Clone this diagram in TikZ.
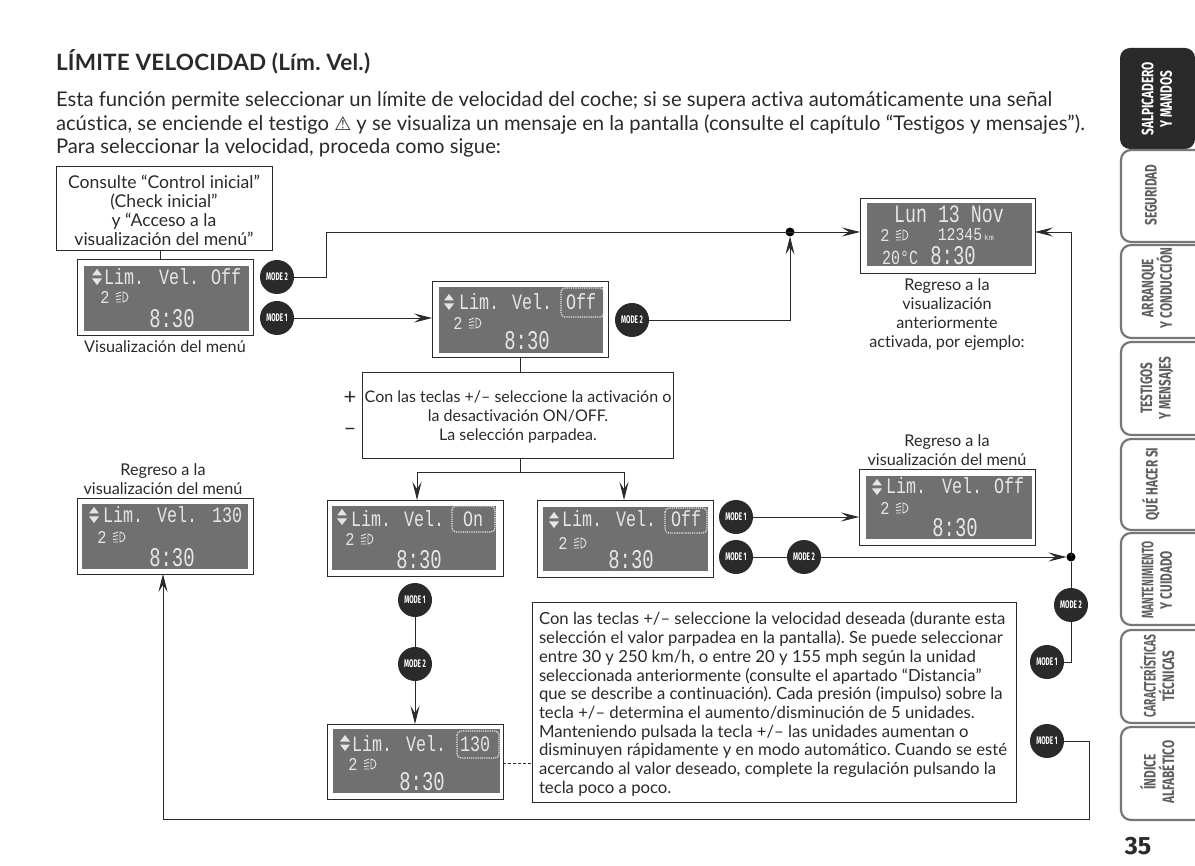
\documentclass[tikz,border=0pt]{standalone}
\usepackage{fontspec}
\setmainfont[Ligatures=NoCommon]{Lato}
\newfontfamily\lcdf{Liberation Mono}
\newfontfamily\dejavu{DejaVu Sans}
\newfontfamily\capf{Fira Sans}
\usetikzlibrary{arrows.meta,calc}
\definecolor{lcdgrey}{HTML}{707070}
\definecolor{lcdtxt}{HTML}{E6E6E6}
\definecolor{ink}{HTML}{2A2A2A}
\definecolor{tabline}{HTML}{777777}
\definecolor{tabtxt}{HTML}{5E5E5E}
\frenchspacing
\tikzset{
  txt/.style={text=ink,inner sep=0pt,outer sep=0pt,font=\fontsize{16.2}{19}\selectfont,align=center},
  txtl/.style={txt,align=left},
  frame/.style={draw=ink,line width=.8pt,fill=white,inner sep=0pt,outer sep=0pt},
  modeb/.style={circle,fill=ink,text=white,inner sep=0pt,outer sep=0pt,minimum size=34pt,font=\capf\bfseries\fontsize{11}{11}\selectfont},
  conn/.style={draw=ink,line width=.8pt},
  arr/.style={conn,-{Stealth[length=18pt,width=9pt,inset=7pt]}},
  dot/.style={circle,fill=black,inner sep=0pt,minimum size=9pt,outer sep=0pt},
  lcdt/.style={text=lcdtxt,inner sep=0pt,outer sep=0pt,anchor=base west,font=\lcdf\fontsize{22}{22}\selectfont},
  lcds/.style={text=lcdtxt,inner sep=0pt,outer sep=0pt,anchor=center},
  dotbox/.style={draw=lcdtxt,densely dotted,line width=1.2pt,rounded corners=4pt},
  tab/.style={draw=tabline,line width=2.2pt,rounded corners=10pt},
  tabt/.style={rotate=90,text=tabtxt,inner sep=0pt,outer sep=0pt,align=center,font=\capf\bfseries\fontsize{16.5}{18.5}\selectfont},
}
\newcommand\mdb[1]{\scalebox{.58}[1]{#1}}
\newcommand\cnd[1]{\scalebox{.716}[1]{#1}}
\newcommand\cnn[1]{\scalebox{.62}[1]{#1}}
% frame and screen: name, frame left/top/right/bottom, screen left/top/right/bottom
\newcommand\lcdbase[9]{%
  \path let \n1={#4-#2},\n2={#5-#3} in node[frame,minimum width=\n1 pt,minimum height=\n2 pt,anchor=north west] (#1) at (#2,#3) {};
  \fill[lcdgrey] (#6,#7) rectangle (#8,#9);}
\newcommand\updown[2]{%
  \fill[lcdtxt] (#1-5,#2-1.5) -- (#1,#2-8) -- (#1+5,#2-1.5) -- cycle (#1-5,#2+1.5) -- (#1,#2+8) -- (#1+5,#2+1.5) -- cycle;}
\newcommand\lamp[3]{%
  \node[lcds,font=\lcdf\fontsize{18}{18}\selectfont] (#1-g) at (#2,#3) {\scalebox{.85}[1]{2}};
  \draw[lcdtxt,line width=.9pt] (#2+18,#3-5) arc[start angle=90,end angle=-90,radius=5pt] -- cycle;
  \draw[lcdtxt,line width=.9pt] (#2+16,#3-5) -- (#2+11,#3-3) (#2+16,#3-1.5) -- (#2+11,#3-.5) (#2+16,#3+2) -- (#2+11,#3+2.5) (#2+16,#3+5) -- (#2+11,#3+5);}
\newcommand\clock[3]{\node[lcds,font=\lcdf\fontsize{27}{27}\selectfont] (#1-c) at (#2,#3) {\scalebox{.7}[1]{8:30}};}
\newcommand\word[4]{\node[lcdt] (#1) at (#2,#3) {\scalebox{.76}[1]{#4}};}
\begin{document}
\begin{tikzpicture}[x=1pt,y=-1pt]
\useasboundingbox (0,0) rectangle (1195,866);
\fill[white] (0,0) rectangle (1195,866);

% --- heading and paragraph
\node[txtl,anchor=base west,font=\bfseries\fontsize{22.5}{24}\selectfont\addfontfeature{LetterSpace=1}] (title) at (56,71) {LÍMITE VELOCIDAD (Lím. Vel.)};
\node[txtl,anchor=north west,font=\fontsize{20.25}{23.5}\selectfont] (para) at (56,92) {Esta función permite seleccionar un límite de velocidad del coche; si se supera activa automáticamente una señal\\
acústica, se enciende el testigo {\dejavu\fontsize{19}{19}\selectfont ⚠} y se visualiza un mensaje en la pantalla (consulte el capítulo “Testigos y mensajes”).\\
Para seleccionar la velocidad, proceda como sigue:};

% --- side tabs
\fill[ink,rounded corners=10pt] (1195,48) -- (1120,48) -- (1120,149) -- (1195,149) -- cycle;
\draw[tab] (1195,150) -- (1121,150) -- (1121,242) -- (1195,242);
\draw[tab] (1195,245) -- (1121,245) -- (1121,338) -- (1195,338);
\draw[tab] (1195,342) -- (1121,342) -- (1121,435) -- (1195,435);
\draw[tab] (1195,439) -- (1121,439) -- (1121,530) -- (1195,530);
\draw[tab] (1195,533) -- (1121,533) -- (1121,625) -- (1195,625);
\draw[tab] (1195,630) -- (1121,630) -- (1121,723) -- (1195,723);
\draw[tab] (1195,727) -- (1121,727) -- (1121,820) -- (1195,820);
\node[tabt,text=white] (t1) at (1157,99) {\cnd{SALPICADERO}\\\cnd{Y MANDOS}};
\node[tabt] (t2) at (1151,195) {\cnd{SEGURIDAD}};
\node[tabt] (t3) at (1157,288) {\cnd{ARRANQUE}\\\cnd{Y CONDUCCIÓN}};
\node[tabt] (t4) at (1157,388) {\cnd{TESTIGOS}\\\cnd{Y MENSAJES}};
\node[tabt] (t5) at (1151,484) {\cnd{QUÉ HACER SI}};
\node[tabt] (t6) at (1157,580) {\cnn{MANTENIMIENTO}\\\cnd{Y CUIDADO}};
\node[tabt] (t7) at (1157,676) {\cnn{CARACTERÍSTICAS}\\\cnd{TÉCNICAS}};
\node[tabt] (t8) at (1157,772) {\cnd{ÍNDICE}\\\cnd{ALFABÉTICO}};
\node[txt,anchor=base,font=\capf\bfseries\fontsize{25}{25}\selectfont] (pg) at (1138,854) {35};

% --- text boxes
\node[frame,minimum width=216pt,minimum height=84pt,anchor=north west] (start) at (56,166) {};
\node[txt,font=\fontsize{17.6}{19}\selectfont] (start-t) at (164,210) {Consulte “Control inicial”\\(Check inicial”\\y “Acceso a la\\visualización del menú”};
\node[frame,minimum width=311pt,minimum height=86pt,anchor=north west] (sel) at (362,372) {};
\node[txt,font=\fontsize{16}{19}\selectfont] (sel-t) at (518,417) {Con las teclas +/– seleccione la activación o\\la desactivación ON/OFF.\\La selección parpadea.};
\node[frame,minimum width=484pt,minimum height=200pt,anchor=north west] (long) at (532,602) {};
\node[txtl,anchor=north west,font=\fontsize{16.7}{18.7}\selectfont] (long-t) at (539,612) {Con las teclas +/– seleccione la velocidad deseada (durante esta\\
selección el valor parpadea en la pantalla). Se puede seleccionar\\
entre 30 y 250 km/h, o entre 20 y 155 mph según la unidad\\
seleccionada anteriormente (consulte el apartado “Distancia”\\
que se describe a continuación). Cada presión (impulso) sobre la\\
tecla +/– determina el aumento/disminución de 5 unidades.\\
Manteniendo pulsada la tecla +/– las unidades aumentan o\\
disminuyen rápidamente y en modo automático. Cuando se esté\\
acercando al valor deseado, complete la regulación pulsando la\\
tecla poco a poco.};
\node[txt,font=\fontsize{22}{22}\selectfont] (plus) at (350,398) {+};
\node[txt,font=\fontsize{22}{22}\selectfont] (minus) at (350,432) {–};

% --- captions
\node[txt,anchor=north] (capa) at (165,341) {Visualización del menú};
\node[txt,anchor=north] (capb) at (947,279) {Regreso a la\\visualización\\anteriormente\\activada, por ejemplo:};
\node[txt,anchor=north] (capc) at (947,435) {Regreso a la\\visualización del menú};
\node[txt,anchor=north] (capd) at (163,464) {Regreso a la\\visualización del menú};

% --- screens
\lcdbase{sa}{77}{259}{253}{335}{84}{266}{249}{331}
\updown{97}{277} \lamp{sa}{105}{297} \clock{sa}{172}{319}
\word{sa-1}{104}{285}{Lim.} \word{sa-2}{159}{285}{Vel.} \word{sa-3}{211}{285}{Off}

\lcdbase{sb}{432}{281}{608}{357}{439}{287}{603}{353}
\updown{449}{302} \lamp{sb}{458}{323} \clock{sb}{527}{341}
\word{sb-1}{459}{310}{Lim.} \word{sb-2}{512}{310}{Vel.} \word{sb-3}{566}{310}{Off}
\draw[dotbox] (561,288) rectangle (604,317);

\lcdbase{sc}{859}{469}{1035}{545}{866}{476}{1032}{539}
\updown{877}{487} \lamp{sc}{885}{508} \clock{sc}{955}{528}
\word{sc-1}{886}{494}{Lim.} \word{sc-2}{942}{494}{Vel.} \word{sc-3}{994}{494}{Off}

\lcdbase{sd}{77}{498}{253}{574}{82}{504}{248}{569}
\updown{94}{515} \lamp{sd}{102}{537} \clock{sd}{172}{558}
\word{sd-1}{103}{523}{Lim.} \word{sd-2}{157}{523}{Vel.} \word{sd-3}{212}{523}{130}

\lcdbase{se}{327}{500}{503}{576}{332}{506}{496}{570}
\updown{342}{517} \lamp{se}{350}{539} \clock{se}{419}{560}
\word{se-1}{351}{526}{Lim.} \word{se-2}{404}{526}{Vel.} \word{se-3}{463}{526}{On}
\draw[dotbox] (452,506) rectangle (495,532);

\lcdbase{sf}{537}{500}{713}{577}{543}{507}{708}{571}
\updown{554}{520} \lamp{sf}{563}{543} \clock{sf}{631}{560}
\word{sf-1}{562}{527}{Lim.} \word{sf-2}{616}{527}{Vel.} \word{sf-3}{671}{527}{Off}
\draw[dotbox] (665,508) rectangle (707,533);

\lcdbase{sg}{327}{724}{503}{799}{333}{729}{500}{793}
\updown{345}{743} \lamp{sg}{353}{764} \clock{sg}{422}{782}
\word{sg-1}{352}{751}{Lim.} \word{sg-2}{406}{751}{Vel.} \word{sg-3}{460}{751}{130}
\draw[dotbox] (457,731) rectangle (499,758);

% date screen
\lcdbase{sh}{860}{198}{1035}{273}{867}{203}{1032}{266}
\node[lcds,font=\lcdf\fontsize{25}{25}\selectfont] (sh-a) at (949,214) {\scalebox{.73}[1]{Lun 13 Nov}};
\lamp{sh}{885}{235}
\node[lcds,font=\lcdf\fontsize{18}{18}\selectfont] (sh-b) at (960,235) {\scalebox{.82}[1]{12345}};
\node[lcds,font=\lcdf\fontsize{8}{8}\selectfont] (sh-k) at (989,238) {km};
\node[lcds,font=\lcdf\fontsize{20}{20}\selectfont] (sh-e) at (900,258) {\scalebox{.75}[1]{20°C}};
\clock{sh}{953}{256}

% --- mode buttons
\node[modeb] (m2a) at (277,277) {\mdb{MODE 2}};
\node[modeb] (m1a) at (277,318) {\mdb{MODE 1}};
\node[modeb] (m2b) at (632,320) {\mdb{MODE 2}};
\node[modeb] (m1b) at (736,517) {\mdb{MODE 1}};
\node[modeb] (m1c) at (736,557) {\mdb{MODE 1}};
\node[modeb] (m2c) at (804,557) {\mdb{MODE 2}};
\node[modeb] (m1d) at (415,600) {\mdb{MODE 1}};
\node[modeb] (m2d) at (415,664) {\mdb{MODE 2}};
\node[modeb] (m2e) at (1071,605) {\mdb{MODE 2}};
\node[modeb] (m1e) at (1047,662) {\mdb{MODE 1}};
\node[modeb] (m1f) at (1047,741) {\mdb{MODE 1}};

% --- junctions and bend points
\node[dot] (ja) at (790,232) {};
\node[dot] (jb) at (1071,557) {};
\coordinate (ca) at (160,250);
\coordinate (cb) at (326,232);
\coordinate (fork) at (520,472);
\coordinate (fl) at (417,472);
\coordinate (fr) at (624,472);
\coordinate (dsh) at (503,763);
\coordinate (bb) at (1089,819);
\coordinate (bc) at (163,819);

% --- connectors
\draw[conn] (ca) -- (ca |- sa.north);
\draw[conn] (m2a.east) -| (cb) -- (ja.center);
\draw[arr] (ja.center) -- (sh.west |- ja);
\draw[arr] (m1a.east) -- (sb.west |- m1a);
\draw[arr] (m2b.east) -| (ja.south);
\draw[conn] (sb.south) -- (sb.south |- sel.north);
\draw[conn] (fork |- sel.south) -- (fork);
\draw[conn] (fl) -- (fr);
\draw[arr] (fl) -- (fl |- se.north);
\draw[arr] (fr) -- (fr |- sf.north);
\draw[arr] (m1b.east) -- (sc.west |- m1b);
\draw[conn] (m1c) -- (m2c);
\draw[arr] (m2c.east) -- (jb.west);
\draw[conn] (m1d) -- (m2d);
\draw[arr] (m2d.south) -- (m2d |- sg.north);
\draw[conn,dashed,dash pattern=on 3pt off 2pt] (dsh) -- (dsh -| long.west);
\draw[conn] (m1e.east) -| (m2e.south);
\draw[conn] (m2e.north) -- (jb.south);
\draw[arr] (jb.center) |- (sh.east |- ja);
\draw[arr] (m1f.east) -| (bb) -- (bc) -- (bc |- sd.south);
\end{tikzpicture}
\end{document}
